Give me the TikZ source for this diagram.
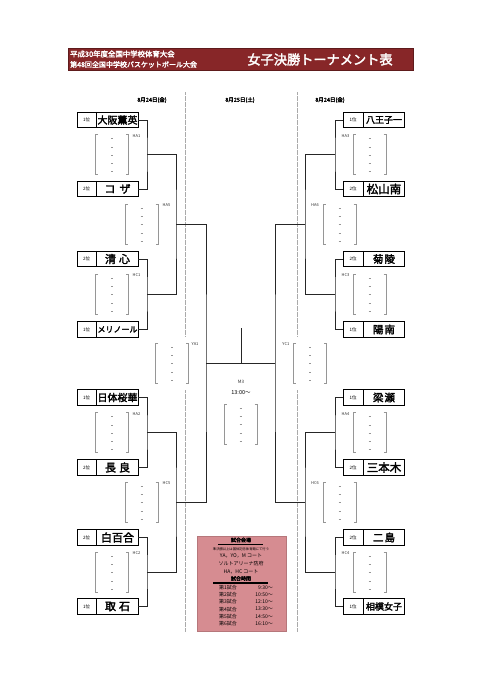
\documentclass[tikz,border=0pt]{standalone}
\usepackage{fontspec}
\setmainfont{Noto Sans CJK JP}[AutoFakeBold=2.5]
\definecolor{hdr}{RGB}{135,38,40}
\definecolor{pinkbg}{RGB}{214,140,145}
\definecolor{brkgray}{RGB}{150,150,150}
\definecolor{sepgray}{RGB}{170,170,170}
\tikzset{
  teambox/.style={draw, line width=0.9pt, minimum width=61pt, minimum height=15.5pt, inner sep=0pt, fill=white},
  rank/.style={inner sep=0pt, font=\fontsize{4.5}{4.5}\selectfont},
  conn/.style={line width=0.8pt, draw=black!85},
  sep/.style={draw=sepgray, line width=0.9pt, dash pattern=on 0.7pt off 0.5pt},
  brk/.style={draw=brkgray, line width=0.45pt},
  lbl/.style={inner sep=0pt, font=\fontsize{4}{4}\selectfont, text=black!80},
  datel/.style={inner sep=0pt, font=\fontsize{5.5}{5.5}\selectfont\bfseries},
  info/.style={inner sep=0pt, font=\fontsize{5}{5}\selectfont},
  slot/.pic={
    \draw[brk] (-14,-20) -- (-16.5,-20) -- (-16.5,20) -- (-14,20);
    \draw[brk] (14,-20) -- (16.5,-20) -- (16.5,20) -- (14,20);
    \foreach \i in {0,...,4} \draw[brk] (-1,-16+\i*8.25) -- (1,-16+\i*8.25);
  }
}
\newcommand\teamnode[6]{%
  \node[teambox] (#1) at (#2,#3) {};
  \draw[line width=0.6pt] ([xshift=20pt]#1.north west) -- ([xshift=20pt]#1.south west);
  \node[rank] (#1r) at ([xshift=10pt]#1.west) {#4};
  \node[inner sep=0pt, font=\fontsize{#5}{#5}\selectfont\bfseries] (#1n) at ([xshift=10pt]#1.center) {#6};
}
\begin{document}
\begin{tikzpicture}[x=1pt,y=-1pt]
\useasboundingbox (0,0) rectangle (481,680);
\fill[white] (0,0) rectangle (481,680);

% header
\node[fill=hdr, draw=hdr!70!black, line width=0.6pt, minimum width=345pt, minimum height=22pt, anchor=north west, inner sep=0pt] (hdr) at (67.5,48) {};
\node[anchor=west, inner sep=0pt, text=white, font=\fontsize{7.4}{7.4}\selectfont\bfseries] (h1) at (70,54) {平成30年度全国中学校体育大会};
\node[anchor=west, inner sep=0pt, text=white, font=\fontsize{7}{7}\selectfont\bfseries] (h2) at (70,64.5) {第48回全国中学校バスケットボール大会};
\node[inner sep=0pt, text=white, font=\fontsize{13.2}{13.2}\selectfont\bfseries] (title) at (320,59.5) {女子決勝トーナメント表};

% dates
\node[datel] (d1) at (152,100) {8月24日(金)};
\node[datel] (d2) at (240,100) {8月25日(土)};
\node[datel] (d3) at (330,100) {8月24日(金)};

% separators
\draw[sep] (185,92) -- (185,336);
\draw[sep] (185,390) -- (185,632);
\draw[sep] (297,92) -- (297,336);
\draw[sep] (297,390) -- (297,632);

% left teams
\teamnode{L1}{107.5}{120}{1位}{10}{大阪薫英}
\teamnode{L2}{107.5}{189}{2位}{11}{コ\hspace{4pt}ザ}
\teamnode{L3}{107.5}{259}{2位}{11}{清\hspace{3pt}心}
\teamnode{L4}{107.5}{329.5}{1位}{8}{メリノール}
\teamnode{L5}{107.5}{397.5}{1位}{10}{日体桜華}
\teamnode{L6}{107.5}{467.5}{2位}{11}{長\hspace{3pt}良}
\teamnode{L7}{107.5}{537.5}{2位}{11}{白百合}
\teamnode{L8}{107.5}{606.5}{1位}{11}{取\hspace{3pt}石}
% right teams
\teamnode{R1}{374}{120}{1位}{9}{八王子一}
\teamnode{R2}{374}{189}{2位}{11.5}{松山南}
\teamnode{R3}{374}{259}{2位}{10.5}{菊\hspace{1pt}陵}
\teamnode{R4}{374}{329.5}{1位}{10.5}{陽\hspace{1pt}南}
\teamnode{R5}{374}{397.5}{1位}{10.5}{梁\hspace{1pt}瀬}
\teamnode{R6}{374}{467.5}{2位}{11.5}{三本木}
\teamnode{R7}{374}{537.5}{2位}{10.5}{二\hspace{1pt}島}
\teamnode{R8}{374}{606.5}{1位}{9}{相模女子}

% slots (brackets) and labels, left
\pic (sHA1) at (112,154.5) {slot};
\node[lbl, anchor=north west] (lHA1) at (132.5,134) {HA1};
\pic (sHC1) at (112,294) {slot};
\node[lbl, anchor=north west] (lHC1) at (132.5,273.5) {HC1};
\pic (sHA2) at (112,432.5) {slot};
\node[lbl, anchor=north west] (lHA2) at (132.5,412) {HA2};
\pic (sHC2) at (112,572) {slot};
\node[lbl, anchor=north west] (lHC2) at (132.5,551.5) {HC2};
\pic (sHA5) at (141.5,224) {slot};
\node[lbl, anchor=north west] (lHA5) at (162.5,203.5) {HA5};
\pic (sHC5) at (141.5,502) {slot};
\node[lbl, anchor=north west] (lHC5) at (162.5,481.5) {HC5};
\pic (sYA1) at (172,363) {slot};
\node[lbl, anchor=north west] (lYA1) at (191.5,342.5) {YA1};
% right
\pic (sHA3) at (369.5,154.5) {slot};
\node[lbl, anchor=north east] (lHA3) at (349.5,134) {HA3};
\pic (sHC3) at (369.5,294) {slot};
\node[lbl, anchor=north east] (lHC3) at (349.5,273.5) {HC3};
\pic (sHA4) at (369.5,432.5) {slot};
\node[lbl, anchor=north east] (lHA4) at (349.5,412) {HA4};
\pic (sHC4) at (369.5,572) {slot};
\node[lbl, anchor=north east] (lHC4) at (349.5,551.5) {HC4};
\pic (sHA6) at (339.5,224) {slot};
\node[lbl, anchor=north east] (lHA6) at (319,203.5) {HA6};
\pic (sHC6) at (339.5,502) {slot};
\node[lbl, anchor=north east] (lHC6) at (319,481.5) {HC6};
\pic (sYC1) at (310,363) {slot};
\node[lbl, anchor=north east] (lYC1) at (289.5,342.5) {YC1};
% final slot
\pic (sM3) at (240.5,424) {slot};
\node[lbl, font=\fontsize{4.5}{4.5}\selectfont] (lM3) at (241,382) {M3};
\node[inner sep=0pt, font=\fontsize{5.5}{5.5}\selectfont] (tM3) at (241,393) {13:00～};

% connectors left
\coordinate (jA1) at (147,154.5);
\coordinate (jC1) at (147,294);
\coordinate (jA2) at (147,432.5);
\coordinate (jC2) at (147,572);
\coordinate (jA5) at (176,224);
\coordinate (jC5) at (176,502);
\coordinate (jYA1) at (206,363);
\draw[conn] (L1.east) -| (jA1) |- (L2.east);
\draw[conn] (L3.east) -| (jC1) |- (L4.east);
\draw[conn] (L5.east) -| (jA2) |- (L6.east);
\draw[conn] (L7.east) -| (jC2) |- (L8.east);
\draw[conn] (jA1) -| (jA5) |- (jC1);
\draw[conn] (jA2) -| (jC5) |- (jC2);
\draw[conn] (jA5) -| (jYA1) |- (jC5);
% connectors right
\coordinate (jA3) at (335,154.5);
\coordinate (jC3) at (335,294);
\coordinate (jA4) at (335,432.5);
\coordinate (jC4) at (335,572);
\coordinate (jA6) at (305,224);
\coordinate (jC6) at (305,502);
\coordinate (jYC1) at (275,363);
\draw[conn] (R1.west) -| (jA3) |- (R2.west);
\draw[conn] (R3.west) -| (jC3) |- (R4.west);
\draw[conn] (R5.west) -| (jA4) |- (R6.west);
\draw[conn] (R7.west) -| (jC4) |- (R8.west);
\draw[conn] (jA3) -| (jA6) |- (jC3);
\draw[conn] (jA4) -| (jC6) |- (jC4);
\draw[conn] (jA6) -| (jYC1) |- (jC6);
% final
\coordinate (fmid) at (241,363);
\coordinate (champ) at (241,328);
\draw[conn] (jYA1) -- (jYC1);
\draw[conn] (fmid) -- (champ);

% info box
\node[draw=pinkbg!85!black, fill=pinkbg, line width=0.4pt, minimum width=89pt, minimum height=95pt, anchor=north west, inner sep=0pt] (infobox) at (196.5,535.5) {};
\node[info, font=\fontsize{5}{5}\selectfont\bfseries] (i1) at (241,540) {試合会場};
\draw[line width=1.1pt] (218,544.5) -- (263,544.5);
\node[info, font=\fontsize{3.3}{3.3}\selectfont] (i2) at (241,549.5) {準決勝以上は国体記念体育館にて行う};
\node[info] (i3) at (241,556) {YA，YO，M コート};
\node[info] (i4) at (241,564) {ソルトアリーナ防府};
\node[info] (i5) at (241,572) {HA，HC コート};
\node[info, font=\fontsize{5}{5}\selectfont\bfseries] (i6) at (241,578.5) {試合時間};
\draw[line width=1.1pt] (213,583) -- (268,583);
\foreach \n/\t [count=\k from 0] in {1/9:30～,2/10:50～,3/12:10～,4/13:30～,5/14:50～,6/16:10～}{
  \node[info, anchor=west] (g\n) at (219,587.5+\k*7.2) {第\n 試合};
  \node[info, anchor=east] (t\n) at (273,587.5+\k*7.2) {\t};
}
\end{tikzpicture}
\end{document}
